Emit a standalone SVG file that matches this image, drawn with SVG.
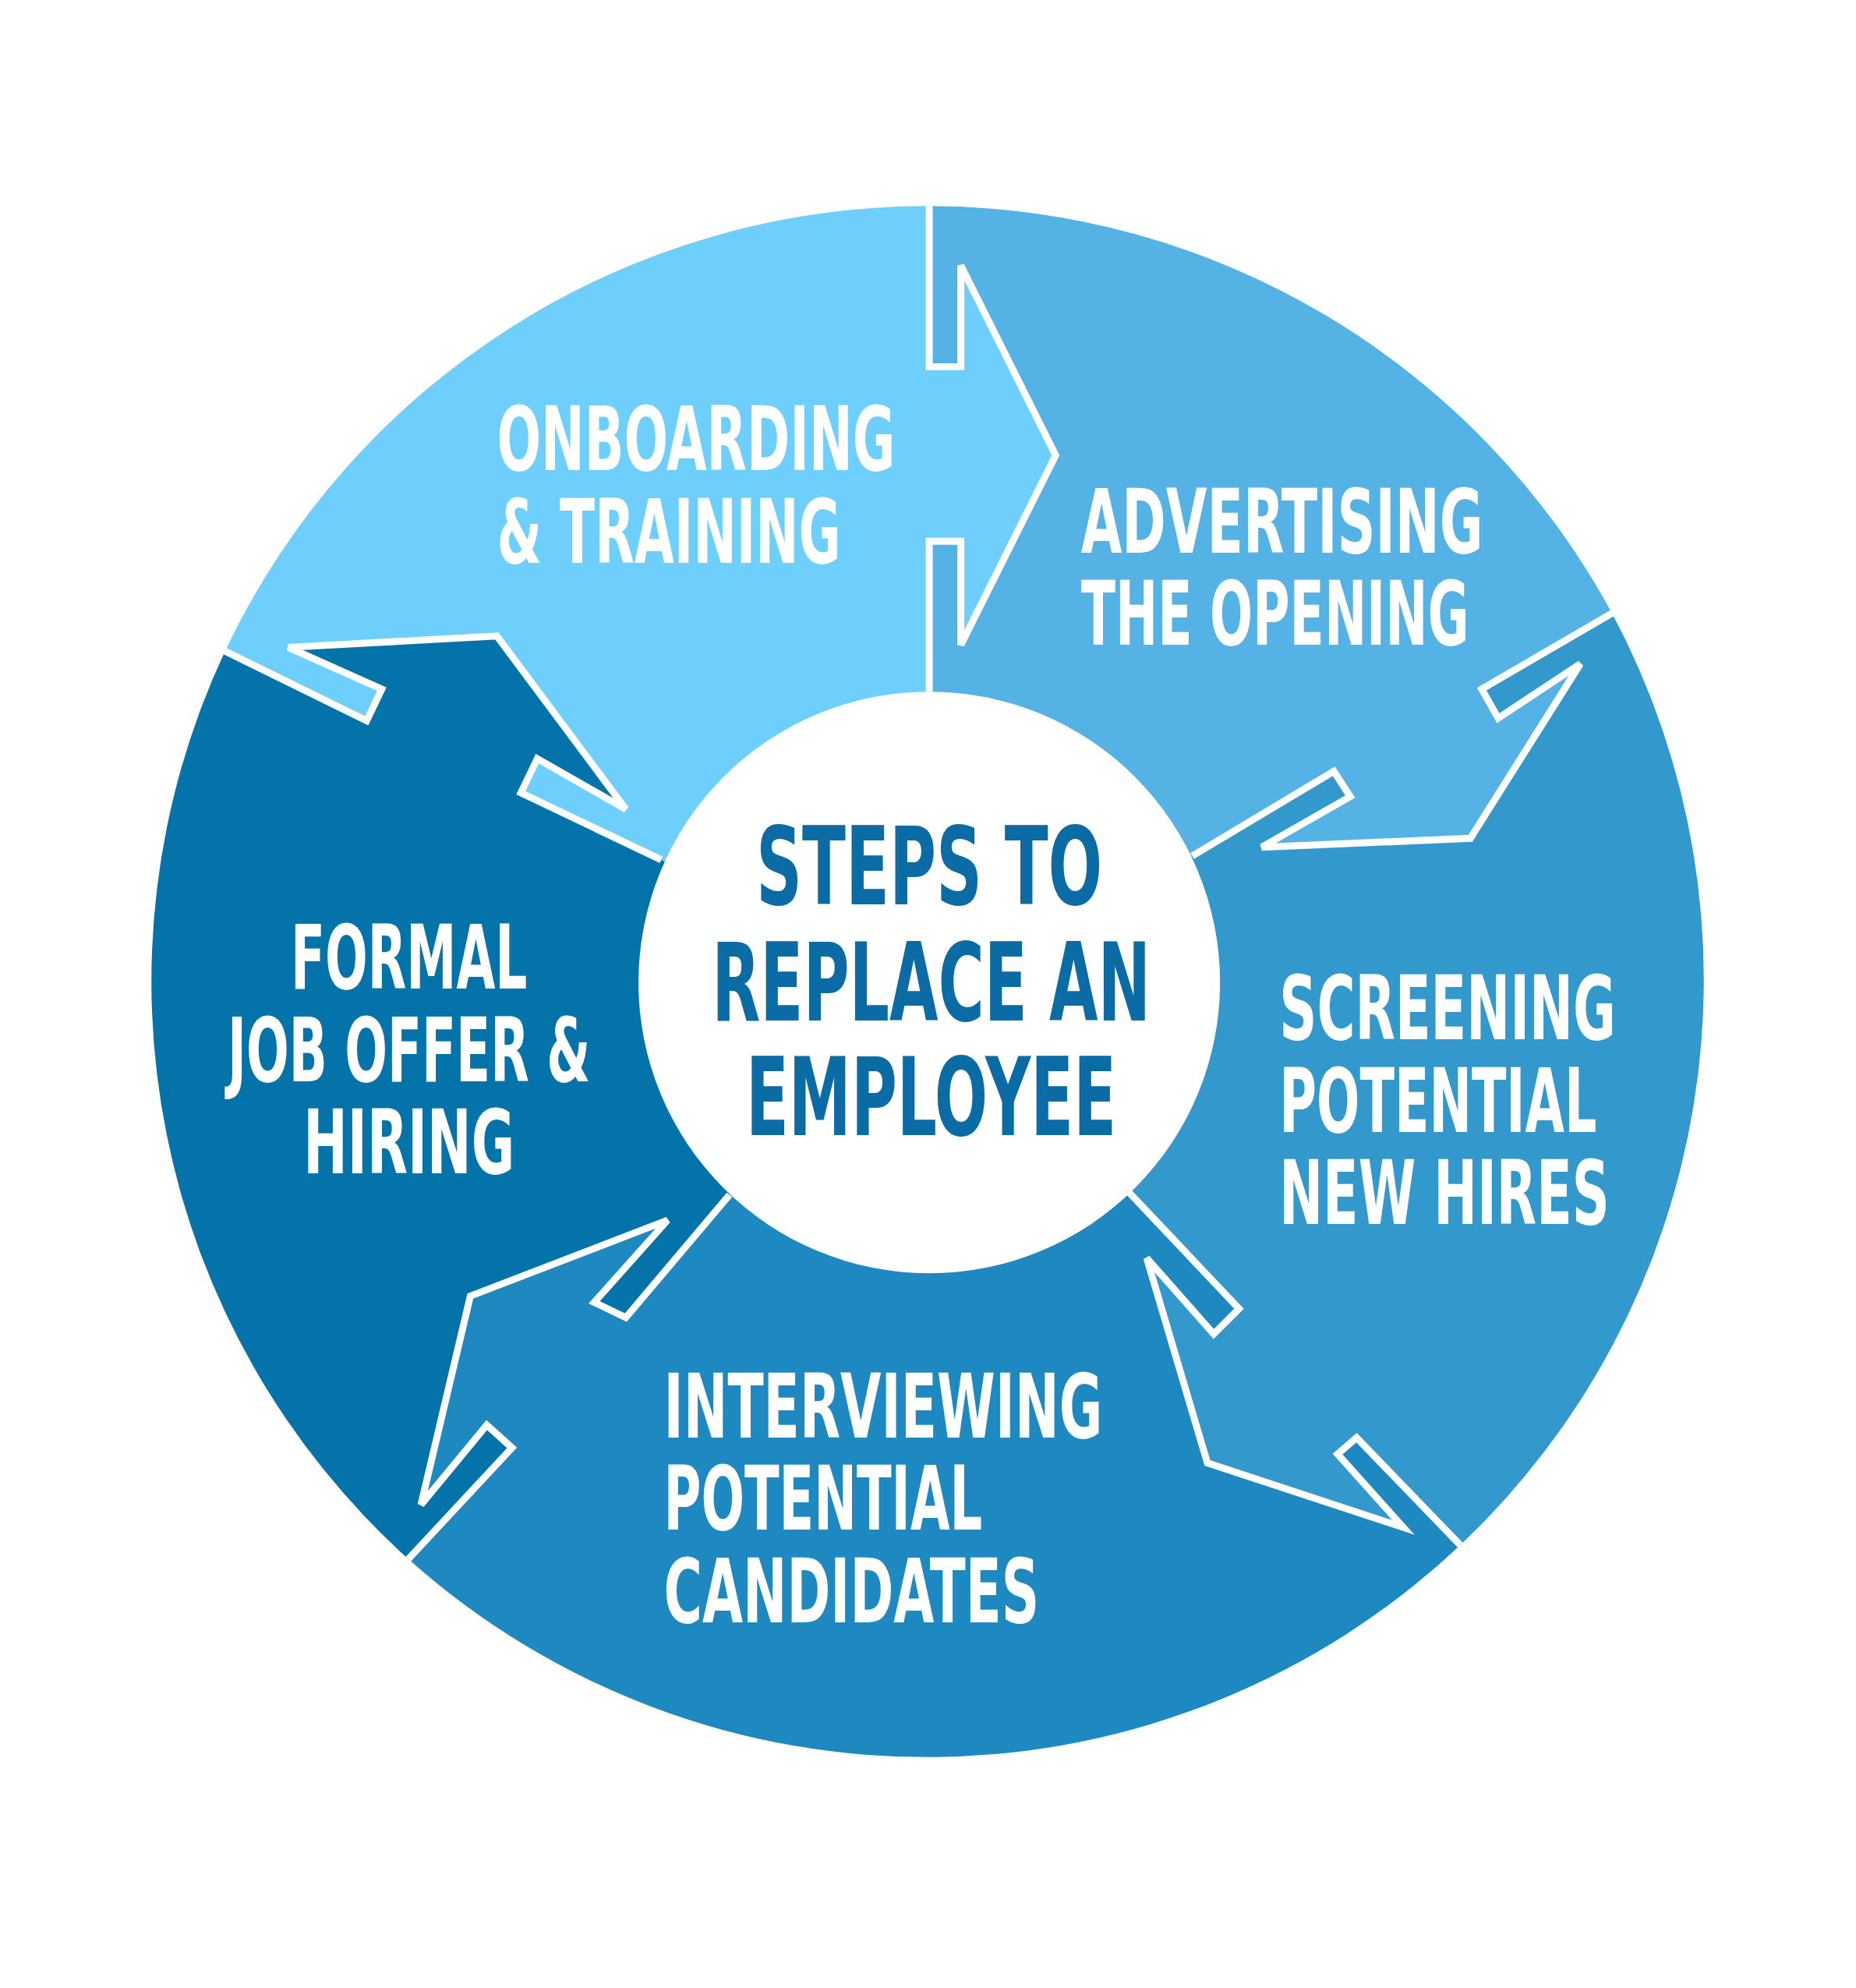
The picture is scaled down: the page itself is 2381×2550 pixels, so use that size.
<svg xmlns="http://www.w3.org/2000/svg" width="2381" height="2550" viewBox="0 0 2381 2550">
<style>
.b{fill:none;stroke:#fff;stroke-width:5.5;stroke-linejoin:miter}
.t{font-family:"DejaVu Sans Condensed","DejaVu Sans",sans-serif;font-weight:bold;font-size:70px;fill:#fff}
.c{font-family:"DejaVu Sans Condensed","DejaVu Sans",sans-serif;font-weight:bold;font-size:86px;fill:#0B6BA5}
</style>
<rect width="2381" height="2550" fill="#fff"/>
<g transform="scale(1.6219)">
<g id="advertising">
<path d="M735,777 L735,547 735,428 760,428 760,510 835,360 760,210 760,290 735,290 735,163 A615,615 0 0 1 1275,485 L1172,545 1185,568 1250,525 1163,663 998,670 1068,630 1055,610 943,677 Z" fill="#55B2E4"/>
<text class="t" x="855" y="437" textLength="318" lengthAdjust="spacingAndGlyphs">ADVERTISING</text>
<text class="t" x="855" y="510" textLength="307" lengthAdjust="spacingAndGlyphs">THE OPENING</text>
</g>
<g id="screening">
<path d="M735,777 L943,677 1055,610 1068,630 998,670 1163,663 1250,525 1185,568 1172,545 1275,485 A615,615 0 0 1 1155,1222 L1073,1137 1058,1150 1110,1208 955,1157 907,995 960,1055 980,1035 893,943 Z" fill="#3399CC"/>
<text class="t" x="1012" y="822" textLength="266" lengthAdjust="spacingAndGlyphs">SCREENING</text>
<text class="t" x="1012" y="895" textLength="251" lengthAdjust="spacingAndGlyphs">POTENTIAL</text>
<text class="t" x="1012" y="968" textLength="261" lengthAdjust="spacingAndGlyphs">NEW HIRES</text>
</g>
<g id="interviewing">
<path d="M735,777 L893,943 980,1035 960,1055 907,995 955,1157 1110,1208 1058,1150 1073,1137 1155,1222 A615,615 0 0 1 323,1233 L405,1145 385,1127 333,1190 372,1025 528,965 470,1030 495,1042 577,945 Z" fill="#1E88C0"/>
<text class="t" x="525" y="1137" textLength="347" lengthAdjust="spacingAndGlyphs">INTERVIEWING</text>
<text class="t" x="525" y="1210" textLength="252" lengthAdjust="spacingAndGlyphs">POTENTIAL</text>
<text class="t" x="525" y="1283" textLength="297" lengthAdjust="spacingAndGlyphs">CANDIDATES</text>
</g>
<g id="formal">
<path d="M735,777 L577,945 495,1042 470,1030 528,965 372,1025 333,1190 385,1127 405,1145 323,1233 A615,615 0 0 1 178,515 L290,570 302,545 228,512 393,503 495,640 425,600 412,627 523,680 Z" fill="#0473AA"/>
<text class="t" x="230" y="782" textLength="187" lengthAdjust="spacingAndGlyphs">FORMAL</text>
<text class="t" x="180" y="855" textLength="287" lengthAdjust="spacingAndGlyphs">JOB OFFER &amp;</text>
<text class="t" x="240" y="928" textLength="167" lengthAdjust="spacingAndGlyphs">HIRING</text>
</g>
<g id="onboarding">
<path d="M735,777 L523,680 412,627 425,600 495,640 393,503 228,512 302,545 290,570 178,515 A615,615 0 0 1 735,163 L735,290 760,290 760,210 835,360 760,510 760,428 735,428 735,547 Z" fill="#6ECFFD"/>
<text class="t" x="393" y="372" textLength="315" lengthAdjust="spacingAndGlyphs">ONBOARDING</text>
<text class="t" x="393" y="445" textLength="272" lengthAdjust="spacingAndGlyphs">&amp; TRAINING</text>
</g>
<g id="connectors">
<polyline class="b" points="735,163 735,290 760,290 760,210 835,360 760,510 760,428 735,428 735,547"/>
<polyline class="b" points="1275,485 1172,545 1185,568 1250,525 1163,663 998,670 1068,630 1055,610 943,677"/>
<polyline class="b" points="1155,1222 1073,1137 1058,1150 1110,1208 955,1157 907,995 960,1055 980,1035 893,943"/>
<polyline class="b" points="323,1233 405,1145 385,1127 333,1190 372,1025 528,965 470,1030 495,1042 577,945"/>
<polyline class="b" points="178,515 290,570 302,545 228,512 393,503 495,640 425,600 412,627 523,680"/>
</g>
<g id="center">
<circle cx="735" cy="777" r="230" fill="#fff"/>
<text class="c" x="598" y="715" textLength="274" lengthAdjust="spacingAndGlyphs">STEPS TO</text>
<text class="c" x="563" y="807" textLength="347" lengthAdjust="spacingAndGlyphs">REPLACE AN</text>
<text class="c" x="590" y="898" textLength="293" lengthAdjust="spacingAndGlyphs">EMPLOYEE</text>
</g>
</g>
</svg>
